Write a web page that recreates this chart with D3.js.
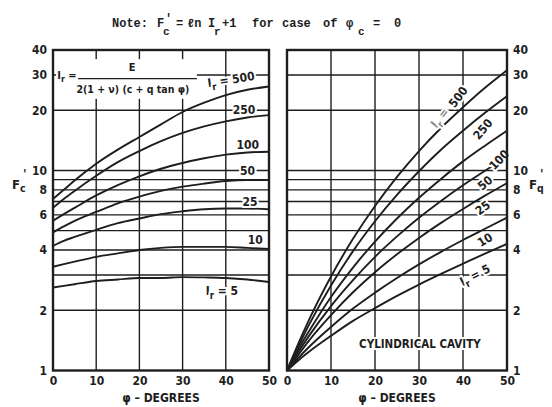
<!DOCTYPE html>
<html>
<head>
<meta charset="utf-8">
<script src="https://cdn.jsdelivr.net/npm/d3@7"></script>
<style>
  body { margin: 0; background: #fff; }
  svg text { font-family: "Liberation Sans Narrow", "DejaVu Sans Condensed", "Liberation Sans", sans-serif; font-weight: bold; fill: #1e1e1e; }
  .halo { stroke: #fff; stroke-width: 4px; stroke-linejoin: round; paint-order: stroke; }
  .note { font-family: "Liberation Mono", "DejaVu Sans Mono", monospace; font-size: 12px; }
  .tick text { font-size: 12px; }
</style>
</head>
<body>
<script>
// friction angle, degrees
const phi = [0, 2.5, 5, 10, 15, 20, 25, 30, 35, 40, 45, 50];
const rigidity = ["500", "250", "100", "50", "25", "10", "5"];

// F'c, left chart
const fc500 = [7.2, 8.0, 8.9, 10.8, 12.7, 14.7, 17.0, 19.6, 21.8, 23.8, 25.3, 26.3];
const fc250 = [6.5, 7.2, 7.9, 9.4, 11.0, 12.5, 14.0, 15.4, 16.6, 17.6, 18.4, 18.9];
const fc100 = [5.6, 6.05, 6.5, 7.5, 8.45, 9.35, 10.2, 10.9, 11.5, 12.0, 12.3, 12.4];
const fc50 = [4.9, 5.25, 5.6, 6.2, 6.85, 7.4, 7.9, 8.3, 8.6, 8.85, 8.95, 8.95];
const fc25 = [4.2, 4.45, 4.65, 5.05, 5.45, 5.75, 6.05, 6.25, 6.4, 6.45, 6.45, 6.4];
const fc10 = [3.3, 3.4, 3.5, 3.7, 3.85, 4.0, 4.1, 4.15, 4.15, 4.15, 4.1, 4.05];
const fc5 = [2.6, 2.65, 2.7, 2.8, 2.85, 2.9, 2.9, 2.93, 2.92, 2.9, 2.85, 2.77];

// F'q, right chart
const fq500 = [1, 1.35, 1.79, 2.95, 4.55, 6.64, 9.28, 12.5, 16.3, 20.7, 25.9, 31.7];
const fq250 = [1, 1.31, 1.69, 2.66, 3.95, 5.57, 7.55, 9.91, 12.7, 15.8, 19.4, 23.5];
const fq100 = [1, 1.27, 1.57, 2.33, 3.27, 4.41, 5.75, 7.3, 9.07, 11.1, 13.3, 15.8];
const fq50 = [1, 1.23, 1.49, 2.1, 2.83, 3.7, 4.68, 5.8, 7.04, 8.43, 9.96, 11.7];
const fq25 = [1, 1.19, 1.41, 1.89, 2.46, 3.1, 3.81, 4.6, 5.47, 6.42, 7.48, 8.64];
const fq10 = [1, 1.15, 1.31, 1.65, 2.04, 2.45, 2.9, 3.39, 3.92, 4.49, 5.11, 5.81];
const fq5 = [1, 1.12, 1.24, 1.49, 1.77, 2.05, 2.36, 2.69, 3.04, 3.42, 3.84, 4.3];

const yTicks = [1, 2, 4, 6, 8, 10, 20, 30, 40];
const yGrid = [2, 3, 4, 5, 6, 7, 8, 9, 10, 20, 30];
const xTicks = [0, 10, 20, 30, 40, 50];
const xGrid = [10, 20, 30, 40];

const fcSeries = [fc500, fc250, fc100, fc50, fc25, fc10, fc5];
const fqSeries = [fq500, fq250, fq100, fq50, fq25, fq10, fq5];

const ink = "#1e1e1e";
const svg = d3.select("body").append("svg").attr("width", 552).attr("height", 407);

const y = d3.scaleLog().domain([1, 40]).range([370.5, 50]);
const xL = d3.scaleLinear().domain([0, 50]).range([53, 269]);
const xR = d3.scaleLinear().domain([0, 50]).range([287, 507]);

// grid for one panel
function grid(x) {
    const g = svg.append("g").attr("stroke", ink).attr("stroke-width", 1.4);
    g.selectAll(".h").data(yGrid).enter().append("line")
        .attr("x1", x(0)).attr("x2", x(50))
        .attr("y1", d => y(d)).attr("y2", d => y(d));
    g.selectAll(".v").data(xGrid).enter().append("line")
        .attr("x1", d => x(d)).attr("x2", d => x(d))
        .attr("y1", y(1)).attr("y2", y(40));
}

function curves(x, series) {
    const line = d3.line()
        .x((d, i) => x(phi[i]))
        .y(d => y(d))
        .curve(d3.curveMonotoneX);
    svg.append("g").selectAll("path").data(series).enter().append("path")
        .attr("d", line)
        .attr("fill", "none")
        .attr("stroke", ink)
        .attr("stroke-width", 1.9);
}

function border(x) {
    svg.append("rect")
        .attr("x", x(0)).attr("y", y(40))
        .attr("width", x(50) - x(0)).attr("height", y(1) - y(40))
        .attr("fill", "none").attr("stroke", ink).attr("stroke-width", 2.4);
}

// text with subscripts: parts = [[text, isSub], ...]
function rich(px, py, parts, opt) {
    const size = opt.size || 12;
    const t = svg.append("text")
        .attr("class", opt.halo === false ? null : "halo")
        .attr("font-size", size)
        .attr("text-anchor", opt.anchor || "middle")
        .attr("transform", `translate(${px},${py}) rotate(${opt.rot || 0})`)
        .attr("dy", "0.35em");
    let shifted = false;
    parts.forEach(p => {
        const s = t.append("tspan").text(p[0]);
        if (p[1]) {
            s.attr("font-size", size * 0.8).attr("dy", size * 0.3);
            shifted = true;
        } else if (shifted) {
            s.attr("dy", -size * 0.3);
            shifted = false;
        }
    });
    if (opt.fill) t.style("fill", opt.fill);
    return t;
}

grid(xL);
grid(xR);

// formula box in the left chart
svg.append("rect")
    .attr("x", xL(0.7)).attr("y", y(36))
    .attr("width", xL(33.3) - xL(0.7)).attr("height", y(22.8) - y(36))
    .attr("fill", "#fff");
svg.append("line")
    .attr("x1", xL(5.8)).attr("x2", xL(33.3))
    .attr("y1", y(28.8)).attr("y2", y(28.8))
    .attr("stroke", ink).attr("stroke-width", 1.3);
rich(xL(1.0), y(30), [["I"], ["r", true], [" ="]], { anchor: "start", size: 11, halo: false });
rich(xL(18.3), y(33), [["E"]], { size: 11, halo: false });
rich(xL(18.5), y(25.5), [["2(1 + ν) (c + q tan φ)"]], { size: 10.5, halo: false });

curves(xL, fcSeries);
curves(xR, fqSeries);

// curve labels, left chart
rich(xL(35.8), y(27.3), [["I"], ["r", true], [" = 500"]], { anchor: "start", rot: -9 });
rich(xL(44.2), y(20), [["250"]], {});
rich(xL(45.1), y(13.4), [["100"]], {});
rich(xL(45), y(10), [["50"]], {});
rich(xL(45.6), y(7), [["25"]], {});
rich(xL(46.8), y(4.5), [["10"]], {});
rich(xL(39.1), y(2.5), [["I"], ["r", true], [" = 5"]], {});

// curve labels, right chart
rich(xR(34.7), y(18.3), [["I"], ["r", true], [" ="]], { rot: -52, fill: "#8a8a8a" });
rich(xR(38.9), y(23.3), [["500"]], { rot: -52 });
rich(xR(44.5), y(16.1), [["250"]], { rot: -50 });
rich(xR(48.2), y(11.3), [["100"]], { rot: -46 });
rich(xR(45), y(8.66), [["50"]], { rot: -40 });
rich(xR(44.5), y(6.5), [["25"]], { rot: -37 });
rich(xR(45), y(4.5), [["10"]], { rot: -32 });
rich(xR(42.7), y(3.0), [["I"], ["r", true], [" = 5"]], { rot: -27 });

rich(xR(30.2), y(1.36), [["CYLINDRICAL CAVITY"]], { size: 11.5 })
    .style("font-family", "'DejaVu Sans Condensed', sans-serif");

border(xL);
border(xR);

// axes
function axis(gen, tx, ty) {
    const g = svg.append("g").attr("transform", `translate(${tx},${ty})`)
        .call(gen.tickSize(0).tickPadding(6).tickFormat(d3.format("d")));
    g.select(".domain").remove();
    return g;
}
axis(d3.axisLeft(y).tickValues(yTicks), xL(0), 0);
axis(d3.axisRight(y).tickValues(yTicks), xR(50), 0);
axis(d3.axisBottom(xL).tickValues(xTicks), 0, y(1));
axis(d3.axisBottom(xR).tickValues(xTicks), 0, y(1));

// axis titles (F with subscript, prime up and to the right)
rich((xL(0) + xL(50)) / 2, 398, [["φ – DEGREES"]], { size: 12, halo: false });
rich((xR(0) + xR(50)) / 2, 398, [["φ – DEGREES"]], { size: 12, halo: false });
rich(12, 184, [["F"], ["c", true]], { anchor: "start", size: 13, halo: false });
rich(23, 173, [["'"]], { anchor: "start", size: 13, halo: false });
rich(529, 184, [["F"], ["q", true]], { anchor: "start", size: 13, halo: false });
rich(540, 173, [["'"]], { anchor: "start", size: 13, halo: false });

// note line at the top
const note = svg.append("text").attr("class", "note").attr("y", 27);
const notePieces = [
    ["Note:", 112, 0], ["F", 157, 0], ["'", 165, -5], ["c", 163, 8],
    ["=", 176, 0], ["ℓn", 187, 0], ["I", 208, 0], ["r", 214, 8], ["+1", 222, 0],
    ["for", 252, 0], ["case", 282, 0], ["of", 323, 0], ["φ", 346, 0], ["c", 358, 8],
    ["=", 373, 0], ["0", 394, 0]
];
notePieces.forEach(p => {
    note.append("tspan").attr("x", p[1]).attr("y", 27 + p[2])
        .attr("font-size", p[2] > 0 ? 11 : 12).text(p[0]);
});
</script>
</body>
</html>
